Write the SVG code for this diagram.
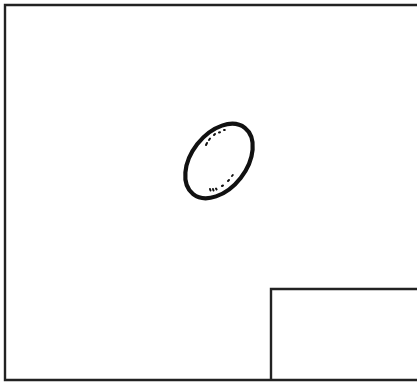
<svg xmlns="http://www.w3.org/2000/svg" width="417" height="382" viewBox="0 0 417 382">
<style>
.frame{fill:none;stroke:#222;stroke-width:2.4}
.egg{fill:none;stroke:#111;stroke-width:4.2}
.dot{fill:none;stroke:#111;stroke-width:2;stroke-linecap:round}
</style>
<rect width="417" height="382" fill="#fff"/>
<g id="frame"><path class="frame" d="M418 5 H5 V380 H418"/></g>
<g id="box"><path class="frame" d="M271 380 V289 H418"/></g>
<g id="egg">
<ellipse class="egg" cx="219" cy="161" rx="42" ry="27.5" transform="rotate(-52 219 161)"/>
<path class="dot" d="M206 145 l1 -2 M209 140 l1 -1.5 M214 135 l1 -1 M219 132.5 l1 -0.3 M224 130 l0.8 0"/>
<path class="dot" d="M210 189 l0.5 1.5 M213 189 l0.5 1.5 M216 188.5 l0.6 1 M222 186 l1 -0.5 M228 181 l1 -1 M232 176 l0.8 -1"/>
</g>
</svg>
